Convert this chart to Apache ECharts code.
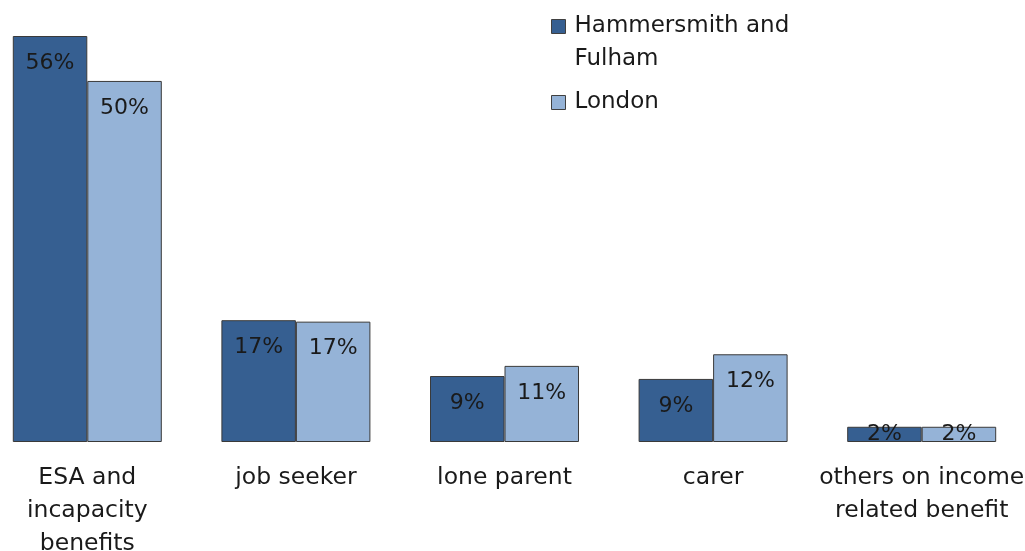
<!DOCTYPE html>
<html>
<head>
<meta charset="utf-8">
<script src="https://cdn.jsdelivr.net/npm/echarts@6/dist/echarts.min.js"></script>
<style>
  html, body { margin: 0; padding: 0; background: #ffffff; }
  #chart { width: 1025px; height: 551px; }
</style>
</head>
<body>
<div id="chart"></div>
<script>
// benefit types
var categories = ['ESA and\nincapacity\nbenefits', 'job seeker', 'lone parent', 'carer', 'others on income\nrelated benefit'];
var seriesNames = ['Hammersmith and Fulham', 'London'];
// percent of claimants
var hfData = [56, 16.8, 9.1, 8.7, 2.1];
var londonData = [49.8, 16.6, 10.5, 12.1, 2.1];

var fontFamily = '"DejaVu Sans", "Noto Sans", sans-serif';

function makeItems(arr) {
  // small bars: keep label centred in the bar
  return arr.map(function (v) {
    if (v < 5) {
      return { value: v, label: { position: 'inside', distance: 0 } };
    }
    return v;
  });
}

var chart = echarts.init(document.getElementById('chart'));

var option = {
  backgroundColor: '#ffffff',
  animation: false,
  color: ['#365f91', '#95b3d7'],
  legend: {
    orient: 'vertical',
    left: 551,
    top: -23,
    padding: 0,
    itemGap: 10,
    itemWidth: 14,
    itemHeight: 14,
    icon: 'rect',
    itemStyle: { borderColor: '#404040', borderWidth: 1 },
    formatter: function (name) {
      // blank first line so the marker sits beside the first text line
      return name == 'Hammersmith and Fulham' ? '\nHammersmith and\nFulham' : name;
    },
    textStyle: {
      fontFamily: fontFamily,
      fontSize: 23,
      color: '#1a1a1a',
      lineHeight: 33,
      padding: [0, 0, 0, 4]
    },
    data: seriesNames
  },
  grid: {
    left: -17,
    right: -1,
    top: 7,
    bottom: 109,
    outerBoundsMode: 'none',
    containLabel: false
  },
  xAxis: {
    type: 'category',
    data: categories,
    axisLine: { show: false },
    axisTick: { show: false },
    axisLabel: {
      interval: 0,
      margin: 19,
      fontFamily: fontFamily,
      fontSize: 23.5,
      lineHeight: 33,
      color: '#1a1a1a'
    }
  },
  yAxis: {
    type: 'value',
    min: 0,
    max: 60,
    show: false,
    splitLine: { show: false }
  },
  series: [
    {
      name: seriesNames[0],
      type: 'bar',
      barWidth: 74.5,
      barGap: '0%',
      data: makeItems(hfData),
      itemStyle: { borderColor: '#3a3a3a', borderWidth: 1 },
      label: {
        show: true,
        position: 'insideTop',
        distance: 16,
        fontFamily: fontFamily,
        fontSize: 22,
        color: '#1a1a1a',
        formatter: function (p) { return Math.round(p.value) + '%'; }
      }
    },
    {
      name: seriesNames[1],
      type: 'bar',
      barWidth: 74.5,
      barGap: '0%',
      data: makeItems(londonData),
      itemStyle: { borderColor: '#3a3a3a', borderWidth: 1 },
      label: {
        show: true,
        position: 'insideTop',
        distance: 16,
        fontFamily: fontFamily,
        fontSize: 22,
        color: '#1a1a1a',
        formatter: function (p) { return Math.round(p.value) + '%'; }
      }
    }
  ]
};

chart.setOption(option);
</script>
</body>
</html>
